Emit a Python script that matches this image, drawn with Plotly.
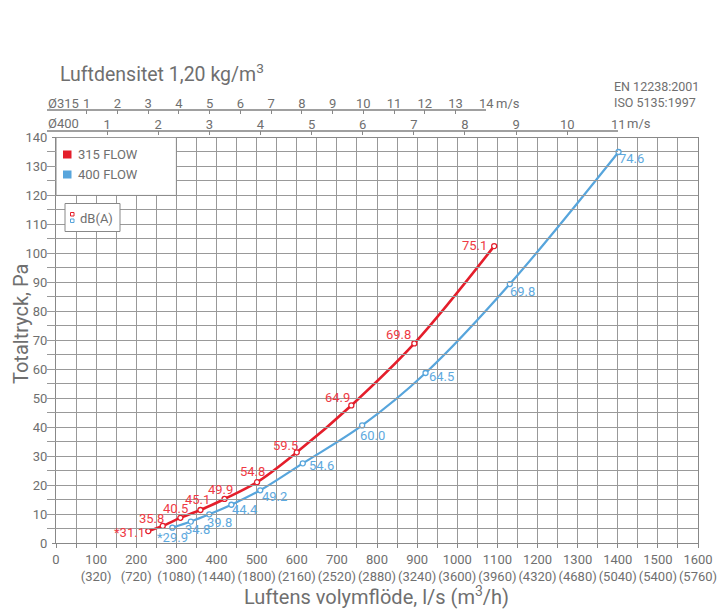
import plotly.graph_objects as go

# ---------------- data ----------------
flow_315 = [230, 266, 310, 360, 420, 501, 600, 736, 893, 1092]
pa_315 = [4.1, 5.9, 8.7, 11.4, 15.2, 21.0, 31.3, 47.5, 68.9, 102.5]
db_315 = ["*31.1", "35.8", "40.5", "45.1", "49.9", "54.8", "59.5", "64.9", "69.8", "75.1"]

flow_400 = [290, 336, 382, 437, 509, 615, 763, 921, 1131, 1402]
pa_400 = [5.3, 7.4, 9.9, 13.2, 18.2, 27.5, 40.6, 58.7, 89.4, 135.0]
db_400 = ["*29.9", "34.8", "39.8", "44.4", "49.2", "54.6", "60.0", "64.5", "69.8", "74.6"]

x_ticks = list(range(0, 1700, 100))
m3h_labels = ["", "(320)", "(720)", "(1080)", "(1440)", "(1800)", "(2160)", "(2520)", "(2880)",
              "(3240)", "(3600)", "(3960)", "(4320)", "(4680)", "(5040)", "(5400)", "(5760)"]
y_ticks = list(range(0, 150, 10))

vel_315 = list(range(1, 15))   # m/s, Ø315
vel_400 = list(range(1, 12))   # m/s, Ø400
ls_per_ms_315 = 76.6           # l/s per 1 m/s in Ø315
ls_per_ms_400 = 127.4          # l/s per 1 m/s in Ø400

# ---------------- style / layout geometry ----------------
W, H = 717, 609
PLOT_L, PLOT_R, PLOT_T, PLOT_B = 56, 698, 137.5, 543
PAPER_T = 100
M_L, M_R, M_T, M_B = 47, W - PLOT_R, PAPER_T, H - PLOT_B
PW = W - M_L - M_R
PH = H - M_T - M_B
XMAX, YMAX = 1600, 140
PX_PER_X = (PLOT_R - PLOT_L) / XMAX
PX_PER_Y = (PLOT_B - PLOT_T) / YMAX


def px2x(px):
    return (px - PLOT_L) / PX_PER_X


def py2y(py):
    return (PLOT_B - py) / PX_PER_Y


def px2paper(px):
    return (px - M_L) / PW


def py2paper(py):
    return (M_T + PH - py) / PH


RED = "#e41e2b"
RED_T = "#ee3a44"
BLUE = "#57a5dc"
BLUE_T = "#5ea9de"
GRAY_T = "#6f6f6f"
GRID = "#999999"
FONT = "Roboto"

# label offsets (pixels, text centre relative to its marker; +y is up)
off_315 = [(-19, -1), (-11, 7), (-5, 9), (-3, 10), (-4, 9), (-5, 11), (-11, 7), (-14, 8), (-16, 9), (-20, 1)]
off_400 = [(0, -10), (7, -8), (10, -8), (14, -5), (14, -6), (19, -2), (10, -10), (16, -4), (13, -7), (13, -7)]

fig = go.Figure()

fig.add_trace(go.Scatter(
    x=flow_315, y=pa_315, name="315 FLOW", mode="lines+markers",
    line=dict(color=RED, width=2.6, shape="spline"),
    marker=dict(symbol="circle", size=5, color="white", line=dict(color=RED, width=1.3)),
    showlegend=False, cliponaxis=False,
))
fig.add_trace(go.Scatter(
    x=flow_400, y=pa_400, name="400 FLOW", mode="lines+markers",
    line=dict(color=BLUE, width=2.2, shape="spline"),
    marker=dict(symbol="circle", size=5, color="white", line=dict(color=BLUE, width=1.3)),
    showlegend=False, cliponaxis=False,
))

# invisible traces to bring the velocity axes into being
fig.add_trace(go.Scatter(x=[None], y=[None], xaxis="x2", yaxis="y", showlegend=False, hoverinfo="skip"))
fig.add_trace(go.Scatter(x=[None], y=[None], xaxis="x3", yaxis="y", showlegend=False, hoverinfo="skip"))

tickfont = dict(family=FONT, size=13, color=GRAY_T)

x0_free = px2x(M_L)  # value at the paper's left edge
end315 = vel_315[-1] * ls_per_ms_315
end400 = vel_400[-1] * ls_per_ms_400

fig.update_layout(
    width=W, height=H,
    margin=dict(l=M_L, r=M_R, t=M_T, b=M_B, autoexpand=False),
    paper_bgcolor="white", plot_bgcolor="rgba(0,0,0,0)",
    font=dict(family=FONT, color=GRAY_T),
    xaxis=dict(
        domain=[px2paper(PLOT_L), 1], range=[0, XMAX], automargin=False,
        tickvals=x_ticks,
        ticktext=[f"{q}<br>{m}" if m else f"{q}" for q, m in zip(x_ticks, m3h_labels)],
        tickfont=tickfont, tickangle=0, ticklabeloverflow="allow",
        showgrid=True, gridcolor=GRID, gridwidth=1,
        minor=dict(dtick=50, showgrid=True, gridcolor=GRID, gridwidth=1, ticks="outside", ticklen=4, tickcolor="#888"),
        ticks="outside", ticklen=4, tickcolor="#888",
        showline=True, linecolor="#888", linewidth=1, mirror=True,
        zeroline=False, fixedrange=True,
    ),
    yaxis=dict(
        domain=[0, py2paper(PLOT_T)], range=[0, YMAX], automargin=False,
        tickvals=y_ticks, tickfont=tickfont, ticklabelstandoff=2,
        showgrid=True, gridcolor=GRID, gridwidth=1,
        minor=dict(dtick=5, showgrid=True, gridcolor=GRID, gridwidth=1),
        ticks="outside", ticklen=3, tickcolor="#888",
        showline=True, linecolor="#888", linewidth=1, mirror=True,
        zeroline=False, fixedrange=True,
    ),
    xaxis2=dict(
        domain=[0, px2paper(PLOT_L + end315 * PX_PER_X)], range=[x0_free, end315], automargin=False,
        anchor="free", position=py2paper(109.5), side="top",
        tickvals=[v * ls_per_ms_315 for v in vel_315],
        ticktext=[str(v) for v in vel_315], tickfont=tickfont, tickangle=0,
        ticks="inside", ticklen=4, tickcolor="#888", ticklabelstandoff=-4,
        showline=True, linecolor="#a0a0a0", linewidth=1.5,
        showgrid=False, zeroline=False, fixedrange=True,
    ),
    xaxis3=dict(
        domain=[0, px2paper(PLOT_L + end400 * PX_PER_X)], range=[x0_free, end400], automargin=False,
        anchor="free", position=py2paper(130.5), side="top",
        tickvals=[v * ls_per_ms_400 for v in vel_400],
        ticktext=[str(v) for v in vel_400], tickfont=tickfont, tickangle=0,
        ticks="inside", ticklen=4, tickcolor="#888", ticklabelstandoff=-4,
        showline=True, linecolor="#a0a0a0", linewidth=1.5,
        showgrid=False, zeroline=False, fixedrange=True,
    ),
)

# ---- legend boxes (drawn as shapes) ----
shapes = [
    dict(type="rect", xref="x", yref="y", x0=0, x1=300, y0=120, y1=140,
         fillcolor="white", line=dict(color="#888", width=1), layer="above"),
    dict(type="rect", xref="x", yref="y", x0=px2x(63), x1=px2x(71.5), y0=py2y(158.5), y1=py2y(150.5),
         fillcolor=RED, line=dict(width=0), layer="above"),
    dict(type="rect", xref="x", yref="y", x0=px2x(63), x1=px2x(71.5), y0=py2y(178.5), y1=py2y(170.5),
         fillcolor=BLUE, line=dict(width=0), layer="above"),
    dict(type="rect", xref="x", yref="y", x0=px2x(65), x1=px2x(120), y0=py2y(231.5), y1=py2y(203.5),
         fillcolor="white", line=dict(color="#888", width=1), layer="above"),
    dict(type="rect", xref="x", yref="y", x0=px2x(70.5), x1=px2x(74), y0=py2y(216), y1=py2y(212.5),
         fillcolor="white", line=dict(color=RED, width=1), layer="above"),
    dict(type="rect", xref="x", yref="y", x0=px2x(70.5), x1=px2x(74), y0=py2y(222.5), y1=py2y(219),
         fillcolor="white", line=dict(color=BLUE, width=1), layer="above"),
]
fig.update_layout(shapes=shapes)

ann = []

# dB(A) labels attached to the data points
for q, p, t, (dx, dy) in zip(flow_315, pa_315, db_315, off_315):
    ann.append(dict(text=t, x=q, y=p, xref="x", yref="y", xshift=dx, yshift=dy,
                    xanchor="center", yanchor="middle", showarrow=False,
                    font=dict(family=FONT, size=13, color=RED_T)))
for q, p, t, (dx, dy) in zip(flow_400, pa_400, db_400, off_400):
    ann.append(dict(text=t, x=q, y=p, xref="x", yref="y", xshift=dx, yshift=dy,
                    xanchor="center", yanchor="middle", showarrow=False,
                    font=dict(family=FONT, size=13, color=BLUE_T)))


def add_text(text, px, py, size=13, xanchor="left", yanchor="middle", color=GRAY_T, textangle=0):
    ann.append(dict(text=text, xref="paper", yref="paper", x=px2paper(px), y=py2paper(py),
                    xanchor=xanchor, yanchor=yanchor, showarrow=False, textangle=textangle,
                    font=dict(family=FONT, size=size, color=color)))


add_text("315 FLOW", 75.5, 154.5)
add_text("400 FLOW", 75.5, 174.5)
add_text("dB(A)", 78, 218)
add_text("Luftdensitet 1,20 kg/m<sup>3</sup>", 58, 73, size=19.5)
add_text("EN 12238:2001", 612, 86, size=12.5)
add_text("ISO 5135:1997", 612, 102, size=12.5)
add_text("Ø315", 46, 104)
add_text("Ø400", 46, 123.5)
add_text("Luftens volymflöde, l/s (m<sup>3</sup>/h)", 376, 596, size=20, xanchor="center")
add_text("Totaltryck, Pa", 21, 324, size=20, xanchor="center", textangle=-90)

# "m/s" units after the last velocity tick
ann.append(dict(text="m/s", xref="x2", yref="paper", x=end315, y=py2paper(103.5),
                xanchor="left", yanchor="middle", xshift=8, showarrow=False,
                font=dict(family=FONT, size=13, color=GRAY_T)))
ann.append(dict(text="m/s", xref="x3", yref="paper", x=end400, y=py2paper(124),
                xanchor="left", yanchor="middle", xshift=7, showarrow=False,
                font=dict(family=FONT, size=13, color=GRAY_T)))

fig.update_layout(annotations=ann)

fig.write_html("out.html", config={"displayModeBar": False},
               post_script="document.body.style.margin='0';document.body.style.overflow='hidden';")
